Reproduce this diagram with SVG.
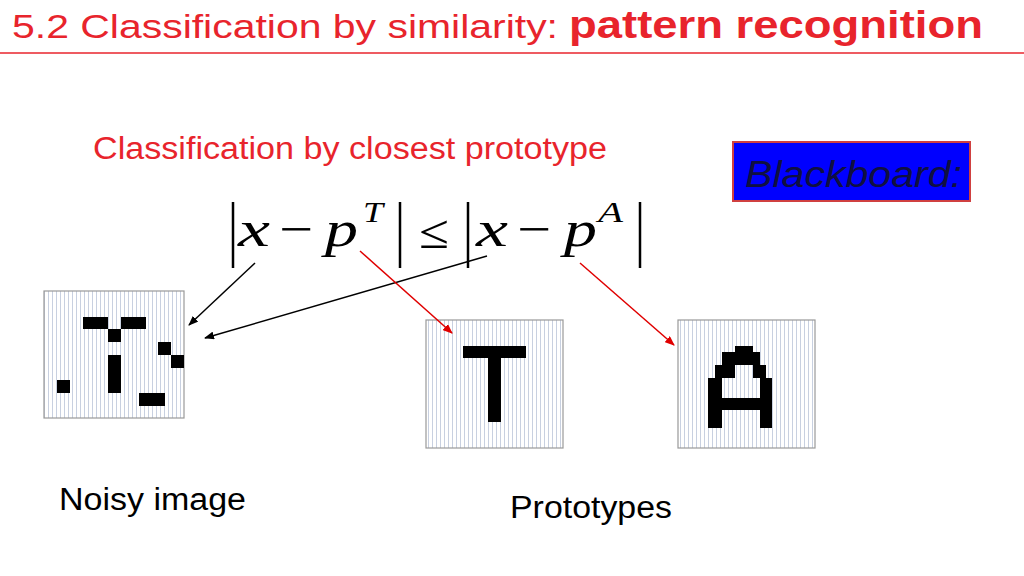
<svg xmlns="http://www.w3.org/2000/svg" width="1024" height="576" viewBox="0 0 1024 576">
<defs>
<style>
.s{font-family:"Liberation Sans",Arial,sans-serif}
.m{font-family:"Liberation Serif","Times New Roman",serif;font-style:italic;fill:#000}
.r{font-family:"Liberation Serif","Times New Roman",serif;fill:#000}
.box{stroke:#999;stroke-width:1.2;fill:url(#grid)}
.px{fill:#000}
</style>
<pattern id="grid" width="4" height="10" patternUnits="userSpaceOnUse">
<rect width="4" height="10" fill="#fff"/>
<line x1="0.5" y1="0" x2="0.5" y2="10" stroke="#c8d0e0" stroke-width="1"/>
</pattern>
<marker id="ab" markerWidth="10" markerHeight="8" refX="9" refY="4" orient="auto" markerUnits="userSpaceOnUse"><path d="M0,0 L10,4 L0,8 Z" fill="#000"/></marker>
<marker id="ar" markerWidth="10" markerHeight="8" refX="9" refY="4" orient="auto" markerUnits="userSpaceOnUse"><path d="M0,0 L10,4 L0,8 Z" fill="#e00000"/></marker>
</defs>
<rect width="1024" height="576" fill="#fff"/>
<g id="title">
<text class="s" x="12" y="38" font-size="34" fill="#e8242c" textLength="546" lengthAdjust="spacingAndGlyphs">5.2 Classification by similarity:</text>
<text class="s" x="569" y="38" font-size="38" font-weight="bold" fill="#e8242c" textLength="414" lengthAdjust="spacingAndGlyphs">pattern recognition</text>
<line x1="0" y1="53" x2="1024" y2="53" stroke="#e8242c" stroke-width="1.5"/>
</g>
<text class="s" x="93" y="159" font-size="31" fill="#e8242c" textLength="514" lengthAdjust="spacingAndGlyphs">Classification by closest prototype</text>
<g id="blackboard">
<rect x="733" y="142" width="237" height="59" fill="#0000ff" stroke="#d04040" stroke-width="2"/>
<text class="s" x="745" y="187" font-size="37" font-style="italic" fill="#101040" textLength="217" lengthAdjust="spacingAndGlyphs">Blackboard:</text>
</g>
<g id="formula">
<g stroke="#000" stroke-width="2.5">
<line x1="233" y1="202" x2="233" y2="268"/><line x1="400" y1="202" x2="400" y2="268"/>
<line x1="468" y1="202" x2="468" y2="268"/><line x1="640" y1="202" x2="640" y2="268"/>
</g>
<text class="m" x="238" y="246" font-size="50" textLength="32" lengthAdjust="spacingAndGlyphs">x</text>
<text class="r" x="279" y="246" font-size="50" textLength="34" lengthAdjust="spacingAndGlyphs">−</text>
<text class="m" x="325" y="246" font-size="50" textLength="33" lengthAdjust="spacingAndGlyphs">p</text>
<text class="m" x="363" y="222" font-size="30" textLength="20" lengthAdjust="spacingAndGlyphs">T</text>
<text class="r" x="419" y="248" font-size="48" textLength="30" lengthAdjust="spacingAndGlyphs">≤</text>
<text class="m" x="476" y="246" font-size="50" textLength="32" lengthAdjust="spacingAndGlyphs">x</text>
<text class="r" x="517" y="246" font-size="50" textLength="34" lengthAdjust="spacingAndGlyphs">−</text>
<text class="m" x="564" y="246" font-size="50" textLength="33" lengthAdjust="spacingAndGlyphs">p</text>
<text class="m" x="598" y="222" font-size="30" textLength="25" lengthAdjust="spacingAndGlyphs">A</text>
</g>
<g id="noisy">
<rect class="box" x="44" y="291" width="140" height="127"/>
<rect class="px" x="83" y="317" width="25" height="12"/>
<rect class="px" x="121" y="317" width="25" height="12"/>
<rect class="px" x="108" y="329" width="13" height="13"/>
<rect class="px" x="158" y="342" width="13" height="13"/>
<rect class="px" x="171" y="355" width="13" height="13"/>
<rect class="px" x="108" y="355" width="13" height="38"/>
<rect class="px" x="57" y="380" width="13" height="13"/>
<rect class="px" x="139" y="393" width="26" height="13"/>
</g>
<g id="protoT">
<rect class="box" x="426" y="320" width="137" height="128"/>
<rect class="px" x="463" y="346" width="63" height="12"/>
<rect class="px" x="488" y="358" width="13" height="64"/>
</g>
<g id="protoA">
<rect class="box" x="678" y="320" width="137" height="128"/>
<path class="px" d="M735,346 H753 V352 H760 V365 H766 V378 H772 V428 H760 V410 H722 V428 H708 V378 H715 V365 H722 V352 H735 Z M722,378 V398 H760 V378 H753 V365 H735 V378 Z" fill-rule="evenodd"/>
</g>
<text class="s" x="59" y="510" font-size="31" fill="#000" textLength="187" lengthAdjust="spacingAndGlyphs">Noisy image</text>
<text class="s" x="510" y="518" font-size="31" fill="#000" textLength="162" lengthAdjust="spacingAndGlyphs">Prototypes</text>
<g id="connectors" stroke-width="1.5">
<line x1="255" y1="263" x2="189" y2="325" stroke="#000" marker-end="url(#ab)"/>
<line x1="487" y1="256" x2="205" y2="338" stroke="#000" marker-end="url(#ab)"/>
<line x1="360" y1="251" x2="452" y2="333" stroke="#e00000" marker-end="url(#ar)"/>
<line x1="580" y1="263" x2="674" y2="345" stroke="#e00000" marker-end="url(#ar)"/>
</g>
</svg>
